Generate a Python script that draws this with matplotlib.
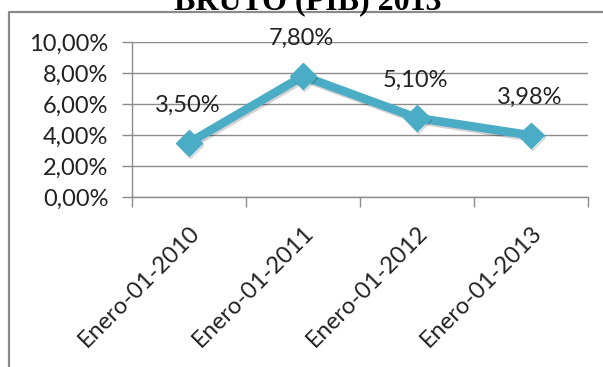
import matplotlib
matplotlib.use("Agg")
import matplotlib.pyplot as plt
import matplotlib.patheffects as pe
from matplotlib.lines import Line2D
from matplotlib.ticker import FuncFormatter, FixedLocator

categories = ["Enero-01-2010", "Enero-01-2011", "Enero-01-2012", "Enero-01-2013"]
values = [3.50, 7.80, 5.10, 3.98]
y_ticks = [0, 2, 4, 6, 8, 10]
title = "BRUTO (PIB) 2013"

W, H = 603, 367
fig = plt.figure(figsize=(W / 100, H / 100), dpi=100)
fig.patch.set_facecolor("white")

def fx(px):
    return px / W

def fy(py):
    return 1 - py / H

# chart frame (left and top edges visible)
fig.add_artist(Line2D([fx(9), fx(9), fx(W + 5)], [fy(H + 5), fy(12), fy(12)],
                      transform=fig.transFigure, color="#8a8a8a", lw=1.6))

fig.text(fx(308), fy(9), title, ha="center", va="baseline",
         fontfamily="Liberation Serif", fontweight="bold", fontsize=23)

ax = fig.add_axes([fx(132), fy(197), fx(588) - fx(132), fy(42) - fy(197)])
ax.set_facecolor("none")

x = list(range(len(categories)))
color = "#4BACC6"
shadow = [pe.SimpleLineShadow(offset=(1.0, -1.5), shadow_color="black", alpha=0.18),
          pe.Normal()]
ax.plot(x, values, color=color, lw=6.2, solid_joinstyle="miter",
        marker="D", markersize=13, markerfacecolor=color, markeredgecolor=color,
        path_effects=shadow, zorder=3, clip_on=False)

for xi, v in zip(x, values):
    ax.annotate(f"{v:.2f}%".replace(".", ","), (xi, v), xytext=(-1, 27),
                textcoords="offset points", ha="center", va="center",
                fontfamily="Lato", fontsize=17, color="#222222")

ax.set_xlim(-0.5, len(categories) - 0.5)
ax.set_ylim(0, 10)

ax.yaxis.set_major_locator(FixedLocator(y_ticks))
ax.yaxis.set_major_formatter(FuncFormatter(lambda v, p: f"{v:.2f}%".replace(".", ",")))
ax.grid(axis="y", color="#8c8c8c", lw=1)
ax.set_axisbelow(True)

ax.set_xticks(x)
ax.set_xticklabels(categories, rotation=45, ha="right", rotation_mode="anchor")
ax.set_xticks([i - 0.5 for i in range(len(categories) + 1)], minor=True)

ax.tick_params(axis="x", which="major", length=0, pad=18)
ax.tick_params(axis="x", which="minor", length=7, color="#8c8c8c", width=1, direction="out")
ax.tick_params(axis="y", length=7, color="#8c8c8c", width=1, pad=10)
for lab in ax.get_xticklabels() + ax.get_yticklabels():
    lab.set_fontfamily("Lato")
    lab.set_fontsize(17)
    lab.set_color("#222222")

for s in ("top", "right"):
    ax.spines[s].set_visible(False)
for s in ("left", "bottom"):
    ax.spines[s].set_color("#8c8c8c")
    ax.spines[s].set_linewidth(1)

fig.savefig("out.png", dpi=100)
